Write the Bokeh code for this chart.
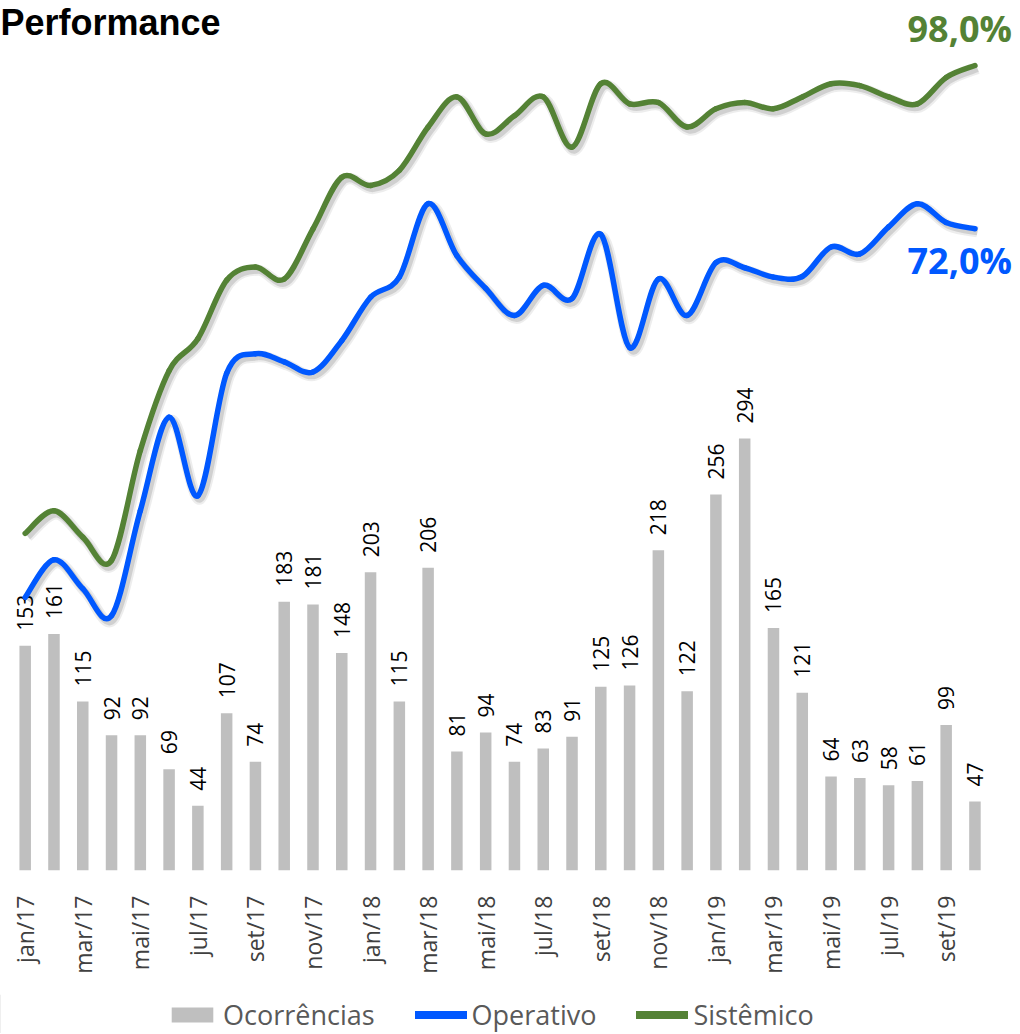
import numpy as np
from bokeh.plotting import figure
from bokeh.layouts import column
from bokeh.models import (ColumnDataSource, Range1d, FixedTicker, Legend, LegendItem, Label)
from bokeh.core.properties import value
from bokeh.embed import file_html
from bokeh.resources import INLINE

# ---------------- data ----------------
months = ["jan/17", "fev/17", "mar/17", "abr/17", "mai/17", "jun/17", "jul/17", "ago/17",
          "set/17", "out/17", "nov/17", "dez/17", "jan/18", "fev/18", "mar/18", "abr/18",
          "mai/18", "jun/18", "jul/18", "ago/18", "set/18", "out/18", "nov/18", "dez/18",
          "jan/19", "fev/19", "mar/19", "abr/19", "mai/19", "jun/19", "jul/19", "ago/19",
          "set/19", "out/19"]
ocorrencias = [153, 161, 115, 92, 92, 69, 44, 107, 74, 183, 181, 148, 203, 115, 206, 81, 94,
               74, 83, 91, 125, 126, 218, 122, 256, 294, 165, 121, 64, 63, 58, 61, 99, 47]
operativo = [13.3, 19.3, 14.7, 10.4, 27.1, 42.0, 29.5, 49.0, 52.1, 50.8, 49.2, 54.2, 61.1,
             64.3, 76.0, 67.7, 62.5, 58.2, 63.0, 60.9, 71.1, 53.1, 64.0, 58.2, 66.6, 65.8,
             64.3, 64.4, 69.1, 68.0, 72.3, 76.0, 73.0, 72.0]
sistemico = [23.5, 27.1, 22.9, 19.2, 36.7, 49.4, 54.5, 63.8, 65.9, 64.0, 72.0, 80.2, 78.9,
             81.3, 88.2, 93.0, 87.1, 90.0, 93.0, 85.0, 95.1, 91.9, 92.1, 88.2, 91.1, 92.1,
             91.1, 93.0, 95.1, 94.8, 93.0, 91.9, 96.1, 98.0]
tick_every = 2
title_text = "Performance"

GRAY = "#BFBFBF"
BLUE = "#0058FF"
GREEN = "#548235"
FONT = "Open Sans"

x = np.arange(len(months))

FRAME_H = 870
p = figure(width=1020, height=994, output_backend="svg", toolbar_location=None,
           x_range=Range1d(-0.858, 34.583), y_range=Range1d(0, 592.2),
           y_axis_location=None, min_border_left=0, min_border_right=0,
           min_border_top=0, min_border_bottom=124)
p.extra_y_ranges = {"pct": Range1d(-30.18, 108.35)}
p.outline_line_color = None
p.xgrid.visible = False
p.ygrid.visible = False
p.background_fill_color = "white"
p.border_fill_color = "white"

# bars
src = ColumnDataSource(dict(x=x, v=ocorrencias, lab=[str(v) for v in ocorrencias]))
r_bar = p.vbar(x="x", top="v", width=0.4, source=src, fill_color=GRAY, line_color=None)
p.text(x="x", y="v", text="lab", source=src, angle=np.pi / 2, y_offset=-15,
       text_align="left", text_baseline="middle", text_font=value(FONT),
       text_font_size="21px", text_color="#000000")


def bezier_parts(xs, ys):
    xs = np.asarray(xs, float)
    ys = np.asarray(ys, float)
    n = len(xs)
    xp = np.concatenate([[xs[0]], xs, [xs[-1]]])
    yp = np.concatenate([[ys[0]], ys, [ys[-1]]])
    i = np.arange(n - 1)
    x0, y0 = xs[:-1], ys[:-1]
    x1, y1 = xs[1:], ys[1:]
    cx0 = x0 + (xp[i + 2] - xp[i]) / 6.0
    cy0 = y0 + (yp[i + 2] - yp[i]) / 6.0
    cx1 = x1 - (xp[i + 3] - xp[i + 1]) / 6.0
    cy1 = y1 - (yp[i + 3] - yp[i + 1]) / 6.0
    return dict(x0=x0, y0=y0, x1=x1, y1=y1, cx0=cx0, cy0=cy0, cx1=cx1, cy1=cy1)


def shifted(d, dx, dy):
    out = {}
    for k, v in d.items():
        out[k] = v + (dx if k.startswith("x") or k.startswith("cx") else dy)
    return out


for series, color in ((sistemico, GREEN), (operativo, BLUE)):
    d = bezier_parts(x, series)
    sh = ColumnDataSource(shifted(d, 0.09, -0.5))
    p.bezier(x0="x0", y0="y0", x1="x1", y1="y1", cx0="cx0", cy0="cy0", cx1="cx1", cy1="cy1",
             source=sh, line_color="black", line_alpha=0.07, line_width=11, y_range_name="pct")
    p.bezier(x0="x0", y0="y0", x1="x1", y1="y1", cx0="cx0", cy0="cy0", cx1="cx1", cy1="cy1",
             source=sh, line_color="black", line_alpha=0.12, line_width=7, y_range_name="pct")
    p.bezier(x0="x0", y0="y0", x1="x1", y1="y1", cx0="cx0", cy0="cy0", cx1="cx1", cy1="cy1",
             source=ColumnDataSource(d), line_color=color, line_width=5.5, line_cap="round",
             y_range_name="pct")

# end labels
last = len(months) - 1
p.text(x=[x[last]], y=[sistemico[last]], text=[f"{sistemico[last]:.1f}%".replace(".", ",")],
       x_offset=37, y_offset=-37, text_align="right", text_baseline="middle",
       text_font=value(FONT), text_font_style="bold", text_font_size="36px",
       text_color=GREEN, y_range_name="pct")
p.text(x=[x[last]], y=[operativo[last]], text=[f"{operativo[last]:.1f}%".replace(".", ",")],
       x_offset=37, y_offset=32, text_align="right", text_baseline="middle",
       text_font=value(FONT), text_font_style="bold", text_font_size="36px",
       text_color=BLUE, y_range_name="pct")

# title (top-left)
p.add_layout(Label(x=0, y=FRAME_H - 1, x_units="screen", y_units="screen", text=title_text,
                   text_font="Liberation Sans", text_font_style="bold",
                   text_font_size="36px", text_color="black", text_baseline="top"))

# x axis
tick_idx = list(range(0, len(months), tick_every))
ax = p.xaxis[0]
ax.ticker = FixedTicker(ticks=tick_idx)
ax.major_label_overrides = {i: months[i] for i in tick_idx}
ax.major_label_orientation = np.pi / 2
ax.axis_line_color = None
ax.major_tick_line_color = None
ax.minor_tick_line_color = None
ax.major_tick_out = 0
ax.major_tick_in = 0
ax.major_label_standoff = 25
ax.major_label_text_font = FONT
ax.major_label_text_font_size = "23px"
ax.major_label_text_color = "#404040"

# legend strip below the chart
lf = figure(width=1020, height=39, output_backend="svg", toolbar_location=None,
            x_range=Range1d(0, 1), y_range=Range1d(0, 1),
            x_axis_location=None, y_axis_location=None,
            min_border_left=0, min_border_right=0, min_border_top=0, min_border_bottom=0)
lf.outline_line_color = None
lf.xgrid.visible = False
lf.ygrid.visible = False
# off-range dummy renderers that only feed the legend swatches
l_bar = lf.vbar(x=[-5], top=[1], width=0.4, fill_color=GRAY, line_color=None)
l_op = lf.line(x=[-5, -4], y=[0, 0], line_color=BLUE, line_width=8, line_cap="round")
l_si = lf.line(x=[-5, -4], y=[0, 0], line_color=GREEN, line_width=8, line_cap="round")
legend = Legend(items=[LegendItem(label="Ocorrências", renderers=[l_bar]),
                       LegendItem(label="Operativo", renderers=[l_op]),
                       LegendItem(label="Sistêmico", renderers=[l_si])],
                orientation="horizontal", glyph_width=52, glyph_height=19,
                label_standoff=5, spacing=40, padding=0, margin=0,
                border_line_color=None, background_fill_alpha=0,
                label_text_font=FONT, label_text_font_size="27px",
                label_text_color="#595959", location=(166, 0))
lf.add_layout(legend, "center")

layout = column(p, lf, spacing=0)
open("out.html", "w").write(file_html(layout, INLINE))
